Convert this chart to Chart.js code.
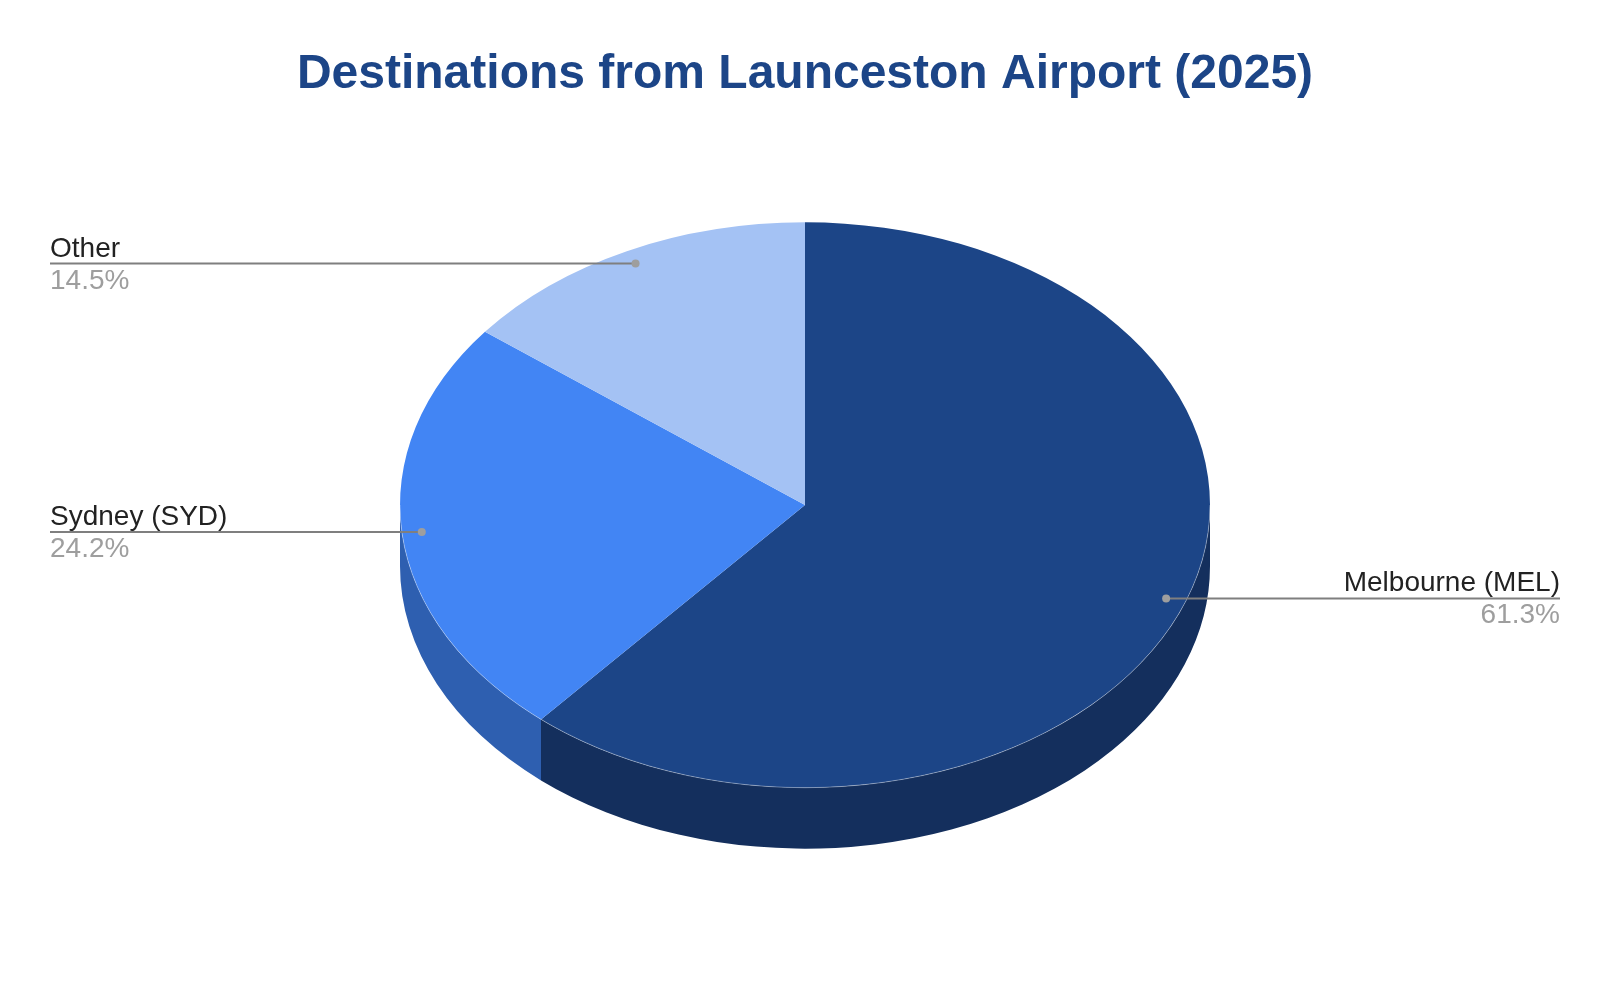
<!DOCTYPE html>
<html>
<head>
<meta charset="utf-8">
<title>Destinations from Launceston Airport (2025)</title>
<script src="https://cdn.jsdelivr.net/npm/chart.js@4.4.1/dist/chart.umd.min.js"></script>
<style>
  html, body { margin: 0; padding: 0; background: #ffffff; }
  #wrap { width: 1610px; height: 990px; position: relative; }
</style>
</head>
<body>
<div id="wrap"><canvas id="pieChart"></canvas></div>
<script>
// ===== DATA =====
const destinations = ["Melbourne (MEL)", "Sydney (SYD)", "Other"];
const shares = [61.3, 24.2, 14.5];
const topColors = ["#1c4587", "#4285f4", "#a4c2f4"];
const sideColors = ["#142f5d", "#2e5fb0", "#7790bb"];

// look of the tilted pie
const TILT = 0.698;      // vertical squash of the top face
const DEPTH = 61;        // thickness of the wall
const CENTER_Y = 505;    // where the top face is centred on the page
const LABEL_R = 0.951;   // where the leader dots sit, as part of the radius
const FONT = "'Liberation Sans', Arial, sans-serif";

Chart.defaults.font.family = FONT;

// draws the wall, squashes the top face and adds leader labels
const tiltedPie = {
    id: "tiltedPie",
    beforeDatasetsDraw(chart) {
        const ctx = chart.ctx;
        const arcs = chart.getDatasetMeta(0).data;
        if (!arcs.length) return;
        const a0 = arcs[0];
        const cx = a0.x, rx = a0.outerRadius, ry = rx * TILT;

        // front wall, only the half that faces us (0..PI)
        ctx.save();
        arcs.forEach((arc, i) => {
            const s = Math.max(arc.startAngle, 0);
            const e = Math.min(arc.endAngle, Math.PI);
            if (e <= s) return;
            ctx.beginPath();
            ctx.ellipse(cx, CENTER_Y, rx, ry, 0, s, e);
            ctx.ellipse(cx, CENTER_Y + DEPTH, rx, ry, 0, e, s, true);
            ctx.closePath();
            ctx.fillStyle = sideColors[i];
            ctx.fill();
        });
        ctx.restore();

        // squash what chart.js draws next into the ellipse
        ctx.save();
        ctx.translate(cx, CENTER_Y);
        ctx.scale(1, TILT);
        ctx.translate(-a0.x, -a0.y);
    },
    afterDatasetsDraw(chart) {
        const ctx = chart.ctx;
        ctx.restore();
        const arcs = chart.getDatasetMeta(0).data;
        if (!arcs.length) return;
        const cx = arcs[0].x, rx = arcs[0].outerRadius, ry = rx * TILT;
        const total = shares.reduce((a, b) => a + b, 0);

        // faint highlight where the top face meets the wall
        ctx.save();
        ctx.beginPath();
        ctx.ellipse(cx, CENTER_Y, rx, ry, 0, 0, Math.PI);
        ctx.strokeStyle = "rgba(255,255,255,0.35)";
        ctx.lineWidth = 1;
        ctx.stroke();
        ctx.restore();

        ctx.save();
        ctx.font = "28px " + FONT;
        arcs.forEach((arc, i) => {
            const mid = (arc.startAngle + arc.endAngle) / 2;
            const px = cx + LABEL_R * rx * Math.cos(mid);
            const py = CENTER_Y + LABEL_R * ry * Math.sin(mid);
            const left = Math.cos(mid) < 0;
            const tx = left ? 50 : chart.width - 50;

            ctx.beginPath();
            ctx.moveTo(tx, py);
            ctx.lineTo(px, py);
            ctx.strokeStyle = "#7f7f7f";
            ctx.lineWidth = 2;
            ctx.stroke();

            ctx.beginPath();
            ctx.arc(px, py, 4, 0, Math.PI * 2);
            ctx.fillStyle = "#9e9e9e";
            ctx.fill();

            ctx.textAlign = left ? "left" : "right";
            ctx.textBaseline = "alphabetic";
            ctx.fillStyle = "#222222";
            ctx.fillText(destinations[i], tx, py - 7);
            ctx.fillStyle = "#9e9e9e";
            ctx.fillText((shares[i] / total * 100).toFixed(1) + "%", tx, py + 25);
        });
        ctx.restore();
    }
};

document.addEventListener("DOMContentLoaded", function () {
    const ctx = document.getElementById("pieChart").getContext("2d");
    new Chart(ctx, {
        type: "pie",
        data: {
            labels: destinations,
            datasets: [{
                data: shares,
                backgroundColor: topColors,
                borderWidth: 0
            }]
        },
        options: {
            responsive: true,
            maintainAspectRatio: false,
            animation: false,
            events: [],
            layout: {
                padding: { top: 0, bottom: 76.4, left: 0, right: 0 }
            },
            plugins: {
                legend: { display: false },
                tooltip: { enabled: false },
                title: {
                    display: true,
                    text: "Destinations from Launceston Airport (2025)",
                    color: "#1c4587",
                    font: { size: 48, weight: "bold", lineHeight: 1.2 },
                    padding: { top: 46, bottom: 0 }
                }
            }
        },
        plugins: [tiltedPie]
    });
});
</script>
</body>
</html>
